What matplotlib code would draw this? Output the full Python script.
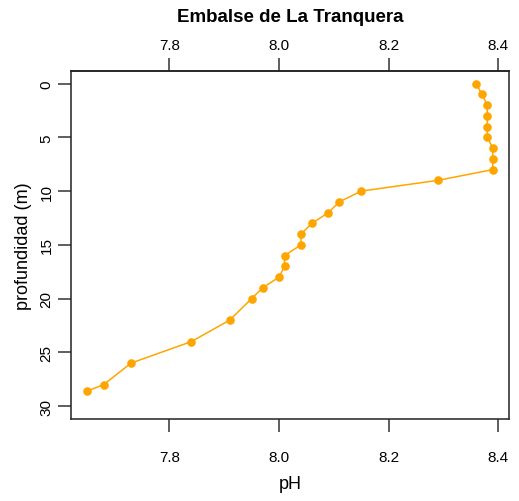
import matplotlib
matplotlib.use("Agg")
import matplotlib.pyplot as plt

# pH profile, Embalse de La Tranquera
depth = [0, 1, 2, 3, 4, 5, 6, 7, 8, 9, 10, 11, 12, 13, 14, 15, 16, 17, 18,
         19, 20, 22, 24, 26, 28, 28.6]
ph = [8.36, 8.37, 8.38, 8.38, 8.38, 8.38, 8.39, 8.39, 8.39, 8.29, 8.15, 8.11,
      8.09, 8.06, 8.04, 8.04, 8.01, 8.01, 8.00, 7.97, 7.95, 7.91, 7.84, 7.73,
      7.68, 7.65]
xticks = [7.8, 8.0, 8.2, 8.4]
yticks = [0, 5, 10, 15, 20, 25, 30]

plt.rcParams["font.family"] = ["Liberation Sans", "DejaVu Sans"]

W, H = 519, 502
fig = plt.figure(figsize=(W / 100, H / 100), dpi=100)
ax = fig.add_axes([71 / W, 1 - 420 / H, 438 / W, 348.3 / H])

ax.plot(ph, depth, color="#FFA500", linewidth=1.1, marker="o",
        markersize=6.2, markeredgewidth=0)

ax.set_xlim(7.6204, 8.4196)
ax.set_ylim(31.2, -1.2)

ax.set_xticks(xticks)
ax.set_xticklabels([f"{t:.1f}" for t in xticks])
ax.set_yticks(yticks)
ax.set_yticklabels([str(t) for t in yticks], rotation=90, va="center")

tick_kw = dict(direction="out", length=9.5, width=1.1, labelsize=11,
               color="#333333")
ax.tick_params(axis="x", pad=13, **tick_kw)
ax.tick_params(axis="y", pad=3, **tick_kw)

top = ax.secondary_xaxis("top")
top.set_xticks(xticks)
top.set_xticklabels([f"{t:.1f}" for t in xticks])
top.tick_params(axis="x", pad=4, **tick_kw)
top.spines["top"].set_linewidth(1.1)
top.spines["top"].set_color("#222222")

for s in ax.spines.values():
    s.set_linewidth(1.1)
    s.set_color("#222222")

ax.set_xlabel("pH", fontsize=13)
ax.xaxis.set_label_coords(0.5, -(476 - 420) / 348.3)
ax.set_ylabel("profundidad (m)", fontsize=13)
ax.yaxis.set_label_coords(-(71 - 32) / 438, 0.5)

fig.text(290 / W, 1 - 18 / H, "Embalse de La Tranquera", fontsize=13.5,
         fontweight="bold", ha="center", va="center")

fig.savefig("out.png", dpi=100)
